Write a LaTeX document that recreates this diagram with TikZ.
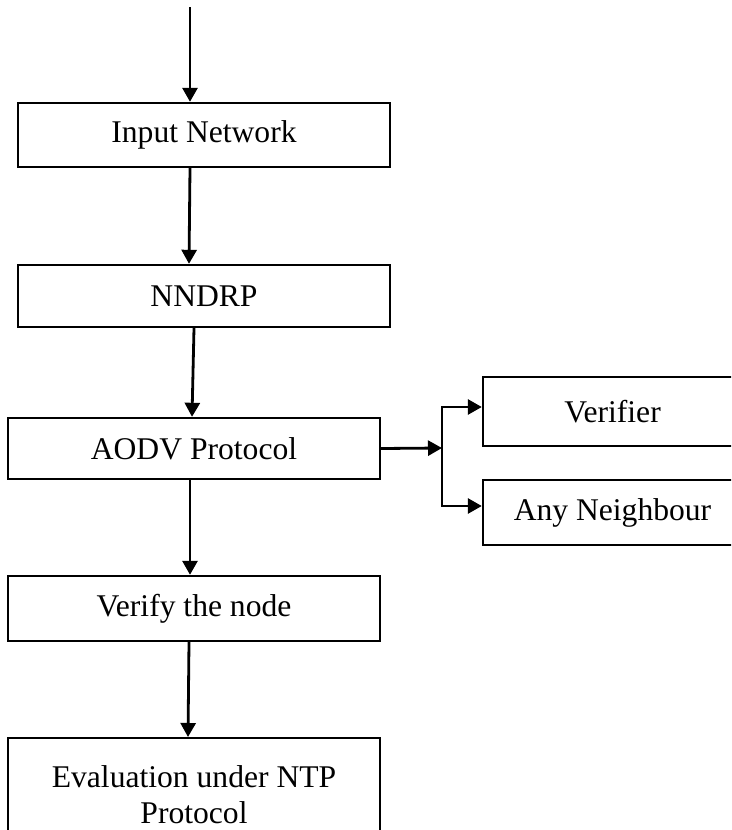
\documentclass[tikz,border=0pt]{standalone}
\usepackage{fontspec}
\setmainfont{Liberation Serif}
\usetikzlibrary{arrows.meta}

\begin{document}
\begin{tikzpicture}[x=1pt,y=-1pt,
    box/.style={draw,line width=2.4pt,minimum width=372pt,inner sep=0pt,
      font=\fontsize{31.6}{36.5}\selectfont,align=center},
    arr/.style={line width=2.8pt,-{Triangle[length=14pt,width=15pt]}}]
  \useasboundingbox (0,0) rectangle (731,830);
  \clip (0,0) rectangle (731,830);
  % main column
  \node[box,minimum height=64pt] (input) at (204,135){Input Network};
  \node[box,minimum height=62pt] (nndrp) at (204,296){NNDRP};
  \node[box,minimum height=61pt] (aodv) at (194,448.5){AODV Protocol};
  \node[box,minimum height=65pt] (verify) at (194,608.5){Verify the node};
  \node[box,anchor=north,inner ysep=27pt] (eval) at (194,737){Evaluation under NTP\\Protocol};
  % side boxes
  \node[box,minimum width=259pt,minimum height=69pt] (verifier) at (612.5,411.5){Verifier};
  \node[box,minimum width=259pt,minimum height=65pt] (anyn) at (612.5,512.5){Any Neighbour};
  % arrows down
  \coordinate (start) at (190,7);
  \draw[arr](start)--([xshift=-14pt]input.north);
  \draw[arr]([xshift=-14pt]input.south)--([xshift=-15pt]nndrp.north);
  \draw[arr]([xshift=-10pt]nndrp.south)--([xshift=-2pt]aodv.north);
  \draw[arr]([xshift=-4pt]aodv.south)--([xshift=-4pt]verify.north);
  \draw[arr]([xshift=-5pt]verify.south)--([xshift=-6pt]eval.north);
  % branch
  \coordinate (fork) at (442,448);
  \draw[arr](aodv.east)--(fork);
  \draw[arr](fork)|-([yshift=4.5pt]verifier.west);
  \draw[arr](fork)|-([yshift=6.5pt]anyn.west);
\end{tikzpicture}
\end{document}
